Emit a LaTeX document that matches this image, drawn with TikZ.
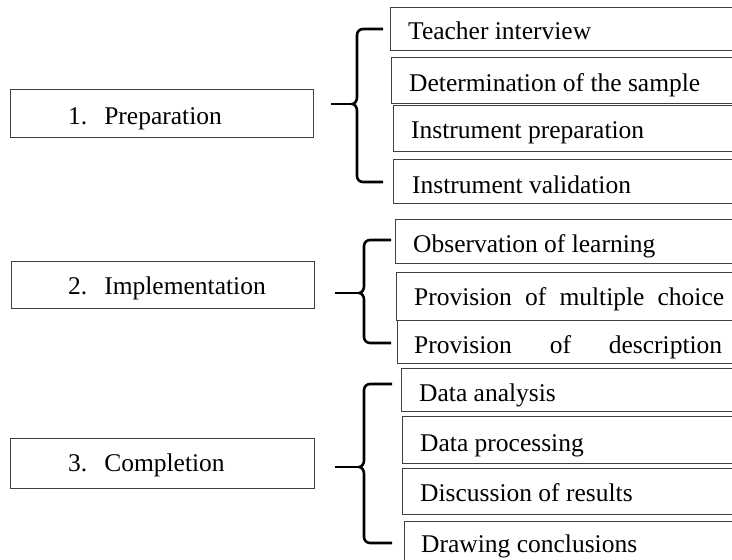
\documentclass[tikz,border=0pt]{standalone}
\usepackage{fontspec}
\setmainfont{Liberation Serif}
\begin{document}
\begin{tikzpicture}[x=1pt,y=-1pt,
  box/.style={draw=black!75,line width=1.4pt,rectangle,inner sep=0pt,anchor=north west},
  txt/.style={anchor=base west,inner sep=0pt,font=\fontsize{25.5}{30}\selectfont},
  brace/.style={draw=black,line width=2.6pt,line cap=butt,line join=round}]
\useasboundingbox (0,0) rectangle (732,560);
\clip (0,0) rectangle (732,560);
\newcommand\bracepath[6]{%
  \draw[brace] (#6,#4) -- ({#3+6},#4) to[out=180,in=90] (#3,{#4+6})
     -- (#3,{#2-7}) to[out=-90,in=0] ({#3-5},#2) to[out=0,in=90] (#3,{#2+7})
     -- (#3,{#5-6}) to[out=-90,in=180] ({#3+6},#5) -- (#6,#5);
  \draw[brace] ({#3-5},#2) -- (#1,#2);}
% left boxes
\node[box,minimum width=303pt,minimum height=48pt] (prep) at (10,89) {};
\node[txt] (tprep) at (68,124) {1.\hspace{17pt}Preparation};
\node[box,minimum width=303pt,minimum height=47pt] (impl) at (11,261) {};
\node[txt] (timpl) at (68,294) {2.\hspace{17pt}Implementation};
\node[box,minimum width=304pt,minimum height=50pt] (comp) at (10,438) {};
\node[txt] (tcomp) at (68,471) {3.\hspace{17pt}Completion};
% right boxes group 1
\node[box,minimum width=360pt,minimum height=43pt] (r1) at (390,7) {};
\node[txt] (t1) at (408,39) {Teacher interview};
\node[box,minimum width=360pt,minimum height=46pt] (r2) at (391,57) {};
\node[txt] (t2) at (409,91) {Determination of the sample};
\node[box,minimum width=360pt,minimum height=46pt] (r3) at (393,105) {};
\node[txt] (t3) at (411,138) {Instrument preparation};
\node[box,minimum width=360pt,minimum height=44pt] (r4) at (393,159) {};
\node[txt] (t4) at (412,193) {Instrument validation};
% group 2
\node[box,minimum width=360pt,minimum height=44pt] (r5) at (395,219) {};
\node[txt] (t5) at (413,252) {Observation of learning};
\node[box,minimum width=360pt,minimum height=48pt] (r6) at (396,272) {};
\node[txt] (t6) at (414,305) {\makebox[310pt][s]{Provision of multiple choice}};
\node[box,minimum width=360pt,minimum height=43pt] (r7) at (397,320) {};
\node[txt] (t7) at (414,353) {\makebox[308pt][s]{Provision\hfil of\hfil description}};
% group 3
\node[box,minimum width=360pt,minimum height=43pt] (r8) at (401,368) {};
\node[txt] (t8) at (419,401) {Data analysis};
\node[box,minimum width=360pt,minimum height=47pt] (r9) at (402,416) {};
\node[txt] (t9) at (420,451) {Data processing};
\node[box,minimum width=360pt,minimum height=46pt] (r10) at (402,468) {};
\node[txt] (t10) at (420,501) {Discussion of results};
\node[box,minimum width=360pt,minimum height=50pt] (r11) at (404,521) {};
\node[txt] (t11) at (421,552) {Drawing conclusions};
% braces
\bracepath{331}{104}{357}{29}{182}{383}
\bracepath{335}{293}{364}{240}{343}{391}
\bracepath{335}{467}{364}{384}{543}{392}
\end{tikzpicture}
\end{document}
